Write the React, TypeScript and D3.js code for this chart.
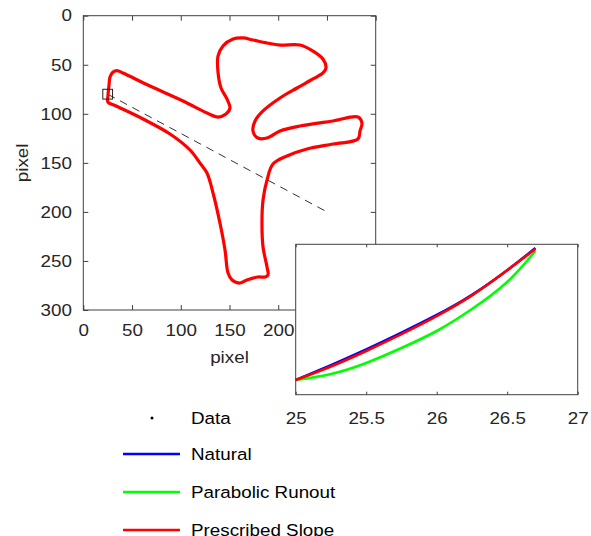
import React, { useEffect, useRef } from 'react';
import * as d3 from 'd3';

// outline (pixel coords, y down)
const contour: [number, number][] = [
  [25.3, 81.9], [26.4, 70.6], [27.4, 62.5], [30.5, 57.4], [34.6, 55.9], [40.7, 58.4],
  [68.4, 71.7], [102.3, 86.9], [126.9, 99.2], [138.2, 103.3], [146.4, 100.2], [150.5, 94.1],
  [147.4, 84.9], [141.3, 73.7], [138.2, 57.4], [138.2, 41.1], [143.3, 30.9], [153.6, 23.8],
  [163.9, 22.7], [174.1, 24.8], [188.5, 27.8], [201.8, 29.9], [222.3, 29.9], [235.7, 36.0],
  [245.9, 44.1], [249.0, 53.3], [245.9, 58.4], [235.7, 64.5], [219.3, 73.7], [201.8, 83.9],
  [184.4, 97.1], [176.2, 107.3], [174.1, 117.5], [179.2, 124.7], [188.5, 124.7], [201.8, 117.5],
  [222.3, 112.4], [256.2, 107.3], [281.8, 103.3], [285.9, 109.4], [283.9, 117.5], [281.8, 125.7],
  [256.2, 130.8], [229.5, 135.9], [209.0, 143.0], [194.6, 151.2], [188.5, 167.5], [184.4, 187.9],
  [183.3, 211.3], [184.4, 235.8], [188.5, 256.2], [189.5, 264.3], [186.4, 266.4], [179.2, 266.4],
  [167.9, 269.4], [160.8, 272.5], [152.6, 269.4], [148.5, 262.3], [145.4, 238.8], [140.2, 211.3],
  [133.1, 180.7], [126.9, 160.4], [119.7, 150.2], [109.5, 136.9], [89.0, 120.6], [61.3, 105.3],
  [33.6, 92.0], [25.3, 88.0],
];

const zoomBox = { x0: 20, x1: 30, y0: 75, y1: 85 };
const normalLine: [number, number][] = [[25, 80], [250, 200]];

const mainTicks = [0, 50, 100, 150, 200, 250, 300];

// inset: spline segment near the start point
const insetX = [25, 25.25, 25.5, 25.75, 26, 26.25, 26.5, 26.7];
const naturalY = [80.805, 80.607, 80.398, 80.175, 79.94, 79.672, 79.345, 79.049];
const parabolicY = [80.805, 80.725, 80.578, 80.379, 80.153, 79.861, 79.501, 79.089];
const prescribedY = [80.805, 80.625, 80.419, 80.195, 79.955, 79.68, 79.345, 79.063];
const insetTicks = [25, 25.5, 26, 26.5, 27];

const legendLabels = ['Data', 'Natural', 'Parabolic Runout', 'Prescribed Slope'];
const legendColors = ['#000000', '#0000ff', '#00ff00', '#ff0000'];

const FONT = 'Liberation Sans, Arial, sans-serif';
const FS = 16.5;
const STRETCH = 'scale(1.14,1)'; // text in the picture is a bit wide
const AXIS = '#404040';

const App = () => {
  const ref = useRef<SVGSVGElement>(null);

  useEffect(() => {
    const svg = d3.select(ref.current);
    svg.selectAll('*').remove();

    // ---- main axes
    const x = d3.scaleLinear().domain([0, 300]).range([83.3, 375.7]);
    const y = d3.scaleLinear().domain([0, 300]).range([15.7, 310]);

    const main = svg.append('g');
    main.append('rect')
      .attr('x', x(0)).attr('y', y(0))
      .attr('width', x(300) - x(0)).attr('height', y(300) - y(0))
      .attr('fill', '#fff');

    const styleAxis = (g: any) => {
      g.select('.domain').remove();
      g.selectAll('line').attr('stroke', AXIS);
      g.selectAll('text')
        .attr('fill', '#262626').attr('font-size', FS).attr('font-family', FONT)
        .attr('transform', STRETCH);
    };

    main.append('g').attr('transform', `translate(0,${y(300)})`)
      .call(d3.axisBottom(x).tickValues(mainTicks).tickSizeInner(-5).tickSizeOuter(0).tickPadding(14))
      .call(styleAxis);
    main.append('g').attr('transform', `translate(0,${y(0)})`)
      .call(d3.axisTop(x).tickValues(mainTicks).tickSizeInner(-5).tickSizeOuter(0).tickFormat(() => ''))
      .call(styleAxis);
    main.append('g').attr('transform', `translate(${x(0)},0)`)
      .call(d3.axisLeft(y).tickValues(mainTicks).tickSizeInner(-5).tickSizeOuter(0).tickPadding(10))
      .call(styleAxis);
    main.append('g').attr('transform', `translate(${x(300)},0)`)
      .call(d3.axisRight(y).tickValues(mainTicks).tickSizeInner(-5).tickSizeOuter(0).tickFormat(() => ''))
      .call(styleAxis);

    main.append('rect')
      .attr('x', x(0)).attr('y', y(0))
      .attr('width', x(300) - x(0)).attr('height', y(300) - y(0))
      .attr('fill', 'none').attr('stroke', AXIS).attr('stroke-width', 1);

    main.append('text')
      .attr('transform', `translate(${(x(0) + x(300)) / 2},363) ${STRETCH}`)
      .attr('text-anchor', 'middle').attr('font-size', FS).attr('font-family', FONT)
      .attr('fill', '#262626').text('pixel');
    main.append('text')
      .attr('transform', `translate(28,${(y(0) + y(300)) / 2}) rotate(-90) ${STRETCH}`)
      .attr('text-anchor', 'middle').attr('font-size', FS).attr('font-family', FONT)
      .attr('fill', '#262626').text('pixel');

    // dashed normal line
    main.append('path')
      .attr('d', d3.line()(normalLine.map(([a, b]) => [x(a), y(b)]) as [number, number][]))
      .attr('fill', 'none').attr('stroke', '#333').attr('stroke-width', 1)
      .attr('stroke-dasharray', '8,6');

    // outline
    const outline = d3.line<[number, number]>()
      .x((d) => x(d[0])).y((d) => y(d[1]))
      .curve(d3.curveCatmullRomClosed.alpha(0.5));
    main.append('path')
      .attr('d', outline(contour))
      .attr('fill', 'none').attr('stroke', '#ff0000').attr('stroke-width', 3.2)
      .attr('stroke-linejoin', 'round');

    // zoom box
    main.append('rect')
      .attr('x', x(zoomBox.x0)).attr('y', y(zoomBox.y0))
      .attr('width', x(zoomBox.x1) - x(zoomBox.x0)).attr('height', y(zoomBox.y1) - y(zoomBox.y0))
      .attr('fill', 'none').attr('stroke', '#222').attr('stroke-width', 1);

    // ---- inset
    const ix = d3.scaleLinear().domain([25, 27]).range([295.7, 577.7]);
    const iy = d3.scaleLinear().domain([79, 81]).range([244.3, 394.7]);
    const inset = svg.append('g');
    inset.append('rect')
      .attr('x', ix(25)).attr('y', iy(79))
      .attr('width', ix(27) - ix(25)).attr('height', iy(81) - iy(79))
      .attr('fill', '#fff');

    inset.append('g').attr('transform', `translate(0,${iy(81)})`)
      .call(d3.axisBottom(ix).tickValues(insetTicks).tickSizeInner(-3).tickSizeOuter(0).tickPadding(18)
        .tickFormat((d) => String(d)))
      .call(styleAxis);
    inset.append('g').attr('transform', `translate(0,${iy(79)})`)
      .call(d3.axisTop(ix).tickValues(insetTicks).tickSizeInner(-3).tickSizeOuter(0).tickFormat(() => ''))
      .call(styleAxis);

    const curve = d3.line<number>()
      .x((_, i) => ix(insetX[i]))
      .y((d) => iy(d))
      .curve(d3.curveNatural);
    const series = [
      { ys: naturalY, color: '#0000ff' },
      { ys: parabolicY, color: '#00ff00' },
      { ys: prescribedY, color: '#ff0000' },
    ];
    series.forEach((s) => {
      inset.append('path')
        .attr('d', curve(s.ys))
        .attr('fill', 'none').attr('stroke', s.color).attr('stroke-width', 2.6);
    });

    inset.append('rect')
      .attr('x', ix(25)).attr('y', iy(79))
      .attr('width', ix(27) - ix(25)).attr('height', iy(81) - iy(79))
      .attr('fill', 'none').attr('stroke', AXIS).attr('stroke-width', 1);

    // ---- legend
    const legend = svg.append('g');
    const rowY = [418, 454, 492, 530];
    legendLabels.forEach((label, i) => {
      if (i === 0) {
        legend.append('circle').attr('cx', 152).attr('cy', rowY[i]).attr('r', 1.5)
          .attr('fill', legendColors[i]);
      } else {
        legend.append('line')
          .attr('x1', 123).attr('x2', 180).attr('y1', rowY[i]).attr('y2', rowY[i])
          .attr('stroke', legendColors[i]).attr('stroke-width', 2.6);
      }
      legend.append('text')
        .attr('transform', `translate(191,${rowY[i]}) ${STRETCH}`)
        .attr('dy', '0.35em')
        .attr('font-size', FS).attr('font-family', FONT).attr('fill', '#000')
        .text(label);
    });
  }, []);

  return (
    <svg
      ref={ref}
      width={591}
      height={536}
      style={{ position: 'absolute', left: 0, top: 0, background: '#fff' }}
    />
  );
};

export default App;
